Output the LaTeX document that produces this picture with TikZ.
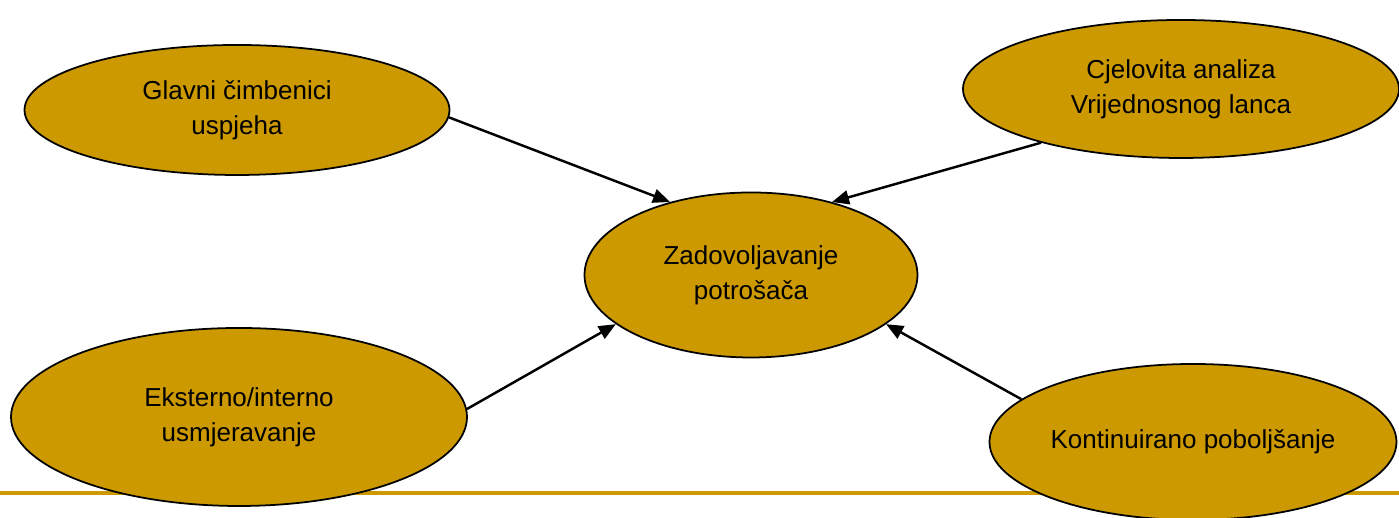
\documentclass[tikz,border=0pt]{standalone}
\usepackage{fontspec}
\setmainfont{Liberation Sans}
\usetikzlibrary{shapes.geometric,arrows.meta}
\definecolor{gold}{RGB}{204,153,0}
\begin{document}
\begin{tikzpicture}[
  main node/.style={ellipse,draw,fill=gold,line width=0.5pt,inner sep=0pt,align=center,
    font=\fontsize{7.4}{9.9}\selectfont}]
  \useasboundingbox (0,0) rectangle (13.99,5.18);

  \draw[gold,line width=0.04cm] (0,0.25) -- (13.99,0.25);

  \node[main node,minimum width=4.25cm,minimum height=1.30cm] (glavni) at (2.37,4.08) {Glavni čimbenici\\uspjeha};
  \node[main node,minimum width=4.36cm,minimum height=1.38cm] (cjelovita) at (11.81,4.29) {Cjelovita analiza\\Vrijednosnog lanca};
  \node[main node,minimum width=3.33cm,minimum height=1.65cm] (zadov) at (7.51,2.43) {Zadovoljavanje\\potrošača};
  \node[main node,minimum width=4.56cm,minimum height=1.78cm] (eksterno) at (2.39,1.01) {Eksterno/interno\\usmjeravanje};
  \node[main node,minimum width=4.07cm,minimum height=1.56cm] (kont) at (11.93,0.76) {Kontinuirano poboljšanje};

  \path[line width=0.7pt,-{Triangle[length=0.17cm,width=0.14cm]}]
   (glavni.-2) edge (zadov.138)
   (cjelovita.201) edge (zadov.42)
   (eksterno.2) edge (zadov.200)
   (kont.166) edge (zadov.-20);
\end{tikzpicture}
\end{document}
